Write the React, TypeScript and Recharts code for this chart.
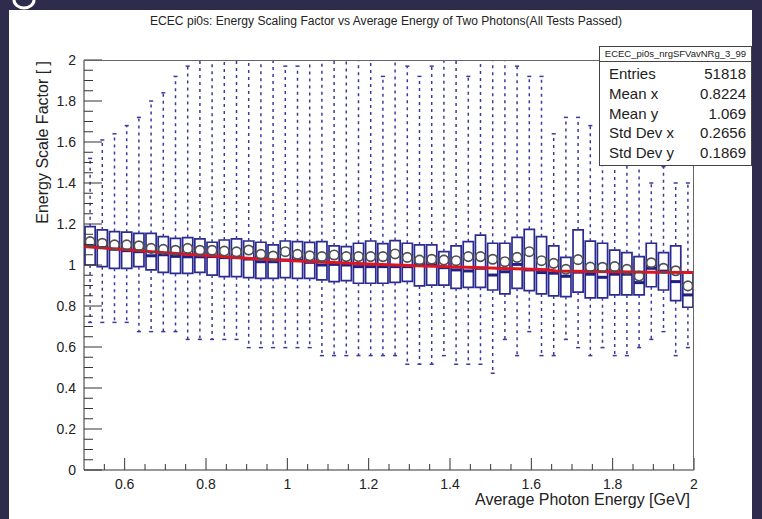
import React from 'react';
import { ComposedChart, XAxis, YAxis, ReferenceArea, ReferenceLine, Scatter, Line } from 'recharts';

// Bin centres (Average Photon Energy, GeV)
const energyBins = [
  0.515, 0.545, 0.575, 0.605, 0.635, 0.665, 0.695, 0.725, 0.755, 0.785,
  0.815, 0.845, 0.875, 0.905, 0.935, 0.965, 0.995, 1.025, 1.055, 1.085,
  1.115, 1.145, 1.175, 1.205, 1.235, 1.265, 1.295, 1.325, 1.355, 1.385,
  1.415, 1.445, 1.475, 1.505, 1.535, 1.565, 1.595, 1.625, 1.655, 1.685,
  1.715, 1.745, 1.775, 1.805, 1.835, 1.865, 1.895, 1.925, 1.955, 1.985,
];
const whiskerHigh = [
  1.52, 1.61, 1.64, 1.68, 1.72, 1.8, 1.84, 1.92, 1.97, 2,
  2, 2, 2, 2, 2, 2, 1.97, 1.97, 2, 2,
  2, 2, 2, 2, 1.92, 2, 1.97, 1.92, 1.97, 2,
  2, 1.92, 2, 2, 2, 1.97, 1.92, 1.92, 1.64, 1.72,
  1.72, 1.68, 1.8, 1.8, 1.8, 1.8, 1.4, 1.48, 1.4, 1.4,
];
const boxHigh = [
  1.187, 1.171, 1.163, 1.16, 1.154, 1.154, 1.138, 1.13, 1.134, 1.127,
  1.111, 1.122, 1.127, 1.117, 1.111, 1.098, 1.117, 1.114, 1.11, 1.114,
  1.093, 1.09, 1.106, 1.117, 1.104, 1.119, 1.106, 1.098, 1.098, 1.065,
  1.093, 1.114, 1.146, 1.106, 1.106, 1.135, 1.174, 1.138, 1.093, 1.037,
  1.171, 1.116, 1.106, 1.073, 1.06, 1.041, 1.106, 1.06, 1.093, 0.967,
];
const medians = [
  1.09, 1.085, 1.077, 1.07, 1.065, 1.045, 1.05, 1.042, 1.04, 1.04,
  1.041, 1.036, 1.036, 1.029, 1.016, 1.016, 1.024, 1.024, 1.013, 1.0,
  1.003, 1.0, 0.992, 0.992, 0.992, 0.992, 0.992, 1.0, 1.0, 0.987,
  0.976, 0.971, 0.984, 0.951, 0.967, 1.003, 0.976, 0.963, 0.96, 0.945,
  0.965, 0.955, 0.94, 0.955, 0.955, 0.914, 0.984, 0.97, 0.919, 0.854,
];
const boxLow = [
  1.0, 0.992, 0.984, 0.984, 0.992, 0.976, 0.964, 0.959, 0.959, 0.964,
  0.951, 0.943, 0.943, 0.938, 0.935, 0.935, 0.938, 0.935, 0.935, 0.927,
  0.919, 0.924, 0.911, 0.911, 0.911, 0.915, 0.92, 0.898, 0.902, 0.902,
  0.886, 0.891, 0.891, 0.878, 0.859, 0.886, 0.875, 0.859, 0.849, 0.846,
  0.868, 0.84, 0.84, 0.854, 0.854, 0.854, 0.894, 0.878, 0.826, 0.794,
];
const whiskerLow = [
  0.72, 0.72, 0.72, 0.72, 0.675, 0.675, 0.675, 0.675, 0.637, 0.637,
  0.637, 0.637, 0.637, 0.597, 0.597, 0.597, 0.597, 0.597, 0.597, 0.558,
  0.558, 0.558, 0.558, 0.558, 0.558, 0.558, 0.516, 0.516, 0.516, 0.558,
  0.516, 0.516, 0.516, 0.472, 0.637, 0.558, 0.675, 0.558, 0.558, 0.637,
  0.597, 0.558, 0.597, 0.558, 0.558, 0.597, 0.637, 0.675, 0.558, 0.597,
];
const means = [
  1.114, 1.106, 1.098, 1.098, 1.094, 1.081, 1.076, 1.072, 1.081, 1.072,
  1.072, 1.068, 1.064, 1.073, 1.052, 1.044, 1.065, 1.052, 1.045, 1.041,
  1.049, 1.041, 1.041, 1.041, 1.041, 1.054, 1.037, 1.024, 1.028, 1.024,
  1.021, 1.041, 1.041, 1.028, 1.016, 1.037, 1.065, 1.021, 1.008, 0.979,
  1.026, 0.99, 0.989, 0.992, 0.979, 0.946, 1.011, 0.984, 0.972, 0.898,
];
// Red fit curve
const fitX = [0.5, 0.6, 0.7, 0.8, 0.9, 1.0, 1.1, 1.2, 1.3, 1.4, 1.5, 1.6, 1.64, 1.66, 1.7, 1.8, 1.9, 2.0];
const fitY = [1.09, 1.075, 1.06, 1.046, 1.033, 1.022, 1.013, 1.005, 0.998, 0.991, 0.985, 0.979, 0.977, 0.971, 0.97, 0.967, 0.965, 0.963];

const xMajorTicks = [0.6, 0.8, 1, 1.2, 1.4, 1.6, 1.8, 2];
const xMinorTicks = [0.55, 0.65, 0.7, 0.75, 0.85, 0.9, 0.95, 1.05, 1.1, 1.15, 1.25, 1.3, 1.35, 1.45, 1.5, 1.55, 1.65, 1.7, 1.75, 1.85, 1.9, 1.95];
const yMajorTicks = [0, 0.2, 0.4, 0.6, 0.8, 1, 1.2, 1.4, 1.6, 1.8, 2];
const yMinorTicks = [0.05, 0.1, 0.15, 0.25, 0.3, 0.35, 0.45, 0.5, 0.55, 0.65, 0.7, 0.75, 0.85, 0.9, 0.95, 1.05, 1.1, 1.15, 1.25, 1.3, 1.35, 1.45, 1.5, 1.55, 1.65, 1.7, 1.75, 1.85, 1.9, 1.95];

const titleText = 'ECEC pi0s: Energy Scaling Factor vs Average Energy of Two Photons(All Tests Passed)';
const xTitle = 'Average Photon Energy [GeV]';
const yTitle = 'Energy Scale Factor [ ]';
const statsName = 'ECEC_pi0s_nrgSFVavNRg_3_99';
const statsLabels = ['Entries', 'Mean x', 'Mean y', 'Std Dev x', 'Std Dev y'];
const statsValues = ['51818', '0.8224', '1.069', '0.2656', '0.1869'];

const FONT = '"Liberation Sans", Arial, Helvetica, sans-serif';
const BOX_HALF = 0.0125;
const CAP_HALF = 0.005;
const BOX_COLOR = '#2a2a90';
const WHISKER_COLOR = '#3b3b9e';

const xTicks = [...xMajorTicks, ...xMinorTicks].sort((a, b) => a - b);
const yTicks = [...yMajorTicks, ...yMinorTicks].sort((a, b) => a - b);
const isMajor = (list: number[], v: number) => list.some((m) => Math.abs(m - v) < 1e-9);

const XTick = (props: any) => {
  const { x, y, payload } = props;
  const major = isMajor(xMajorTicks, payload.value);
  return (
    <g>
      <line x1={x} x2={x} y1={y} y2={y - (major ? 12 : 6)} stroke="#333" strokeWidth={1} />
      {major && (
        <text x={x} y={y + 19} textAnchor="middle" fontFamily={FONT} fontSize={14} fill="#222">
          {String(Number(payload.value.toFixed(2)))}
        </text>
      )}
    </g>
  );
};

const YTick = (props: any) => {
  const { x, y, payload } = props;
  const major = isMajor(yMajorTicks, payload.value);
  return (
    <g>
      <line x1={x} x2={x + (major ? 18 : 9)} y1={y} y2={y} stroke="#333" strokeWidth={1} />
      {major && (
        <text x={x - 8} y={y + 5} textAnchor="end" fontFamily={FONT} fontSize={14} fill="#222">
          {String(Number(payload.value.toFixed(2)))}
        </text>
      )}
    </g>
  );
};

const MeanCircle = (props: any) => {
  const { cx, cy } = props;
  if (cx == null || cy == null) return null;
  return <circle cx={cx} cy={cy} r={4.7} fill="none" stroke="#505050" strokeWidth={1.7} />;
};

export default function App() {
  const meanData = energyBins.map((x, i) => ({ x, y: means[i] }));
  const fitData = fitX.map((x, i) => ({ x, y: fitY[i] }));

  const candles: React.ReactNode[] = [];
  energyBins.forEach((x, i) => {
    candles.push(
      <ReferenceLine
        key={`wu${i}`}
        segment={[{ x, y: boxHigh[i] }, { x, y: whiskerHigh[i] }]}
        stroke={WHISKER_COLOR}
        strokeWidth={1.5}
        strokeDasharray="3 4"
        ifOverflow="visible"
      />,
      <ReferenceLine
        key={`wl${i}`}
        segment={[{ x, y: boxLow[i] }, { x, y: whiskerLow[i] }]}
        stroke={WHISKER_COLOR}
        strokeWidth={1.5}
        strokeDasharray="3 4"
        ifOverflow="visible"
      />,
      <ReferenceLine
        key={`cl${i}`}
        segment={[{ x: x - CAP_HALF, y: whiskerLow[i] }, { x: x + CAP_HALF, y: whiskerLow[i] }]}
        stroke={WHISKER_COLOR}
        strokeWidth={1.5}
        ifOverflow="visible"
      />,
      <ReferenceArea
        key={`bx${i}`}
        x1={x - BOX_HALF}
        x2={x + BOX_HALF}
        y1={boxLow[i]}
        y2={boxHigh[i]}
        fill="none"
        fillOpacity={0}
        stroke={BOX_COLOR}
        strokeWidth={1.7}
        ifOverflow="visible"
      />,
      <ReferenceLine
        key={`md${i}`}
        segment={[{ x: x - BOX_HALF, y: medians[i] }, { x: x + BOX_HALF, y: medians[i] }]}
        stroke="#1f1f85"
        strokeWidth={3}
        ifOverflow="visible"
      />
    );
    if (whiskerHigh[i] < 2) {
      candles.push(
        <ReferenceLine
          key={`cu${i}`}
          segment={[{ x: x - CAP_HALF, y: whiskerHigh[i] }, { x: x + CAP_HALF, y: whiskerHigh[i] }]}
          stroke={WHISKER_COLOR}
          strokeWidth={1.5}
          ifOverflow="visible"
        />
      );
    }
  });

  return (
    <div style={{ position: 'absolute', left: 0, top: 0, width: 762, height: 519, background: '#2e2b4c', overflow: 'hidden' }}>
      <div style={{ position: 'absolute', left: 9, top: 10, width: 743, height: 509, background: '#ffffff' }} />
      <svg style={{ position: 'absolute', left: 0, top: 0 }} width={60} height={12}>
        <path d="M 14 0 A 10 8 0 0 0 34 0" fill="none" stroke="#ffffff" strokeWidth={3} />
      </svg>
      <div style={{ position: 'absolute', left: 0, top: 0 }}>
        <ComposedChart width={762} height={519} margin={{ top: 60, right: 68, bottom: 19, left: 24 }}>
          <XAxis
            dataKey="x"
            type="number"
            domain={[0.5, 2]}
            ticks={xTicks}
            interval={0}
            tickSize={0}
            tickMargin={0}
            tickLine={false}
            tick={(p: any) => <XTick {...p} />}
            axisLine={{ stroke: '#333', strokeWidth: 1 }}
            allowDataOverflow
            height={30}
          />
          <YAxis
            dataKey="y"
            type="number"
            domain={[0, 2]}
            ticks={yTicks}
            interval={0}
            tickSize={0}
            tickMargin={0}
            tickLine={false}
            tick={(p: any) => <YTick {...p} />}
            axisLine={{ stroke: '#333', strokeWidth: 1 }}
            allowDataOverflow
            width={60}
          />
          {candles}
          <Line
            data={fitData}
            dataKey="y"
            type="linear"
            stroke="#e0141e"
            strokeWidth={3}
            dot={false}
            activeDot={false}
            isAnimationActive={false}
          />
          <Scatter data={meanData} dataKey="y" shape={(p: any) => <MeanCircle {...p} />} isAnimationActive={false} />
        </ComposedChart>
      </div>
      <svg style={{ position: 'absolute', left: 0, top: 0, pointerEvents: 'none' }} width={762} height={519}>
        <line x1={84} x2={694} y1={60.5} y2={60.5} stroke="#666" strokeWidth={1} />
        <line x1={693.5} x2={693.5} y1={60} y2={470} stroke="#666" strokeWidth={1} />
        <text
          x={150}
          y={25}
          textLength={472}
          lengthAdjust="spacingAndGlyphs"
          fontFamily={FONT}
          fontSize={12.5}
          fill="#222"
        >
          {titleText}
        </text>
        <text x={690} y={505} textAnchor="end" fontFamily={FONT} fontSize={16} fill="#222">
          {xTitle}
        </text>
        <text x={48} y={61} textAnchor="end" fontFamily={FONT} fontSize={16} fill="#222" transform="rotate(-90 48 61)">
          {yTitle}
        </text>
      </svg>
      <div
        style={{
          position: 'absolute',
          left: 599,
          top: 46,
          width: 151,
          height: 118,
          background: '#ffffff',
          border: '1px solid #444',
          fontFamily: FONT,
          color: '#222',
        }}
      >
        <div
          style={{
            height: 14,
            borderBottom: '1px solid #444',
            fontSize: 9.5,
            lineHeight: '14px',
            textAlign: 'center',
            whiteSpace: 'nowrap',
          }}
        >
          {statsName}
        </div>
        {statsLabels.map((lab, i) => (
          <div
            key={lab}
            style={{
              position: 'absolute',
              left: 9,
              right: 5,
              top: 17 + i * 19.75,
              height: 20,
              fontSize: 15,
              lineHeight: '20px',
              display: 'flex',
              justifyContent: 'space-between',
              whiteSpace: 'nowrap',
            }}
          >
            <span>{lab}</span>
            <span>{statsValues[i]}</span>
          </div>
        ))}
      </div>
    </div>
  );
}
